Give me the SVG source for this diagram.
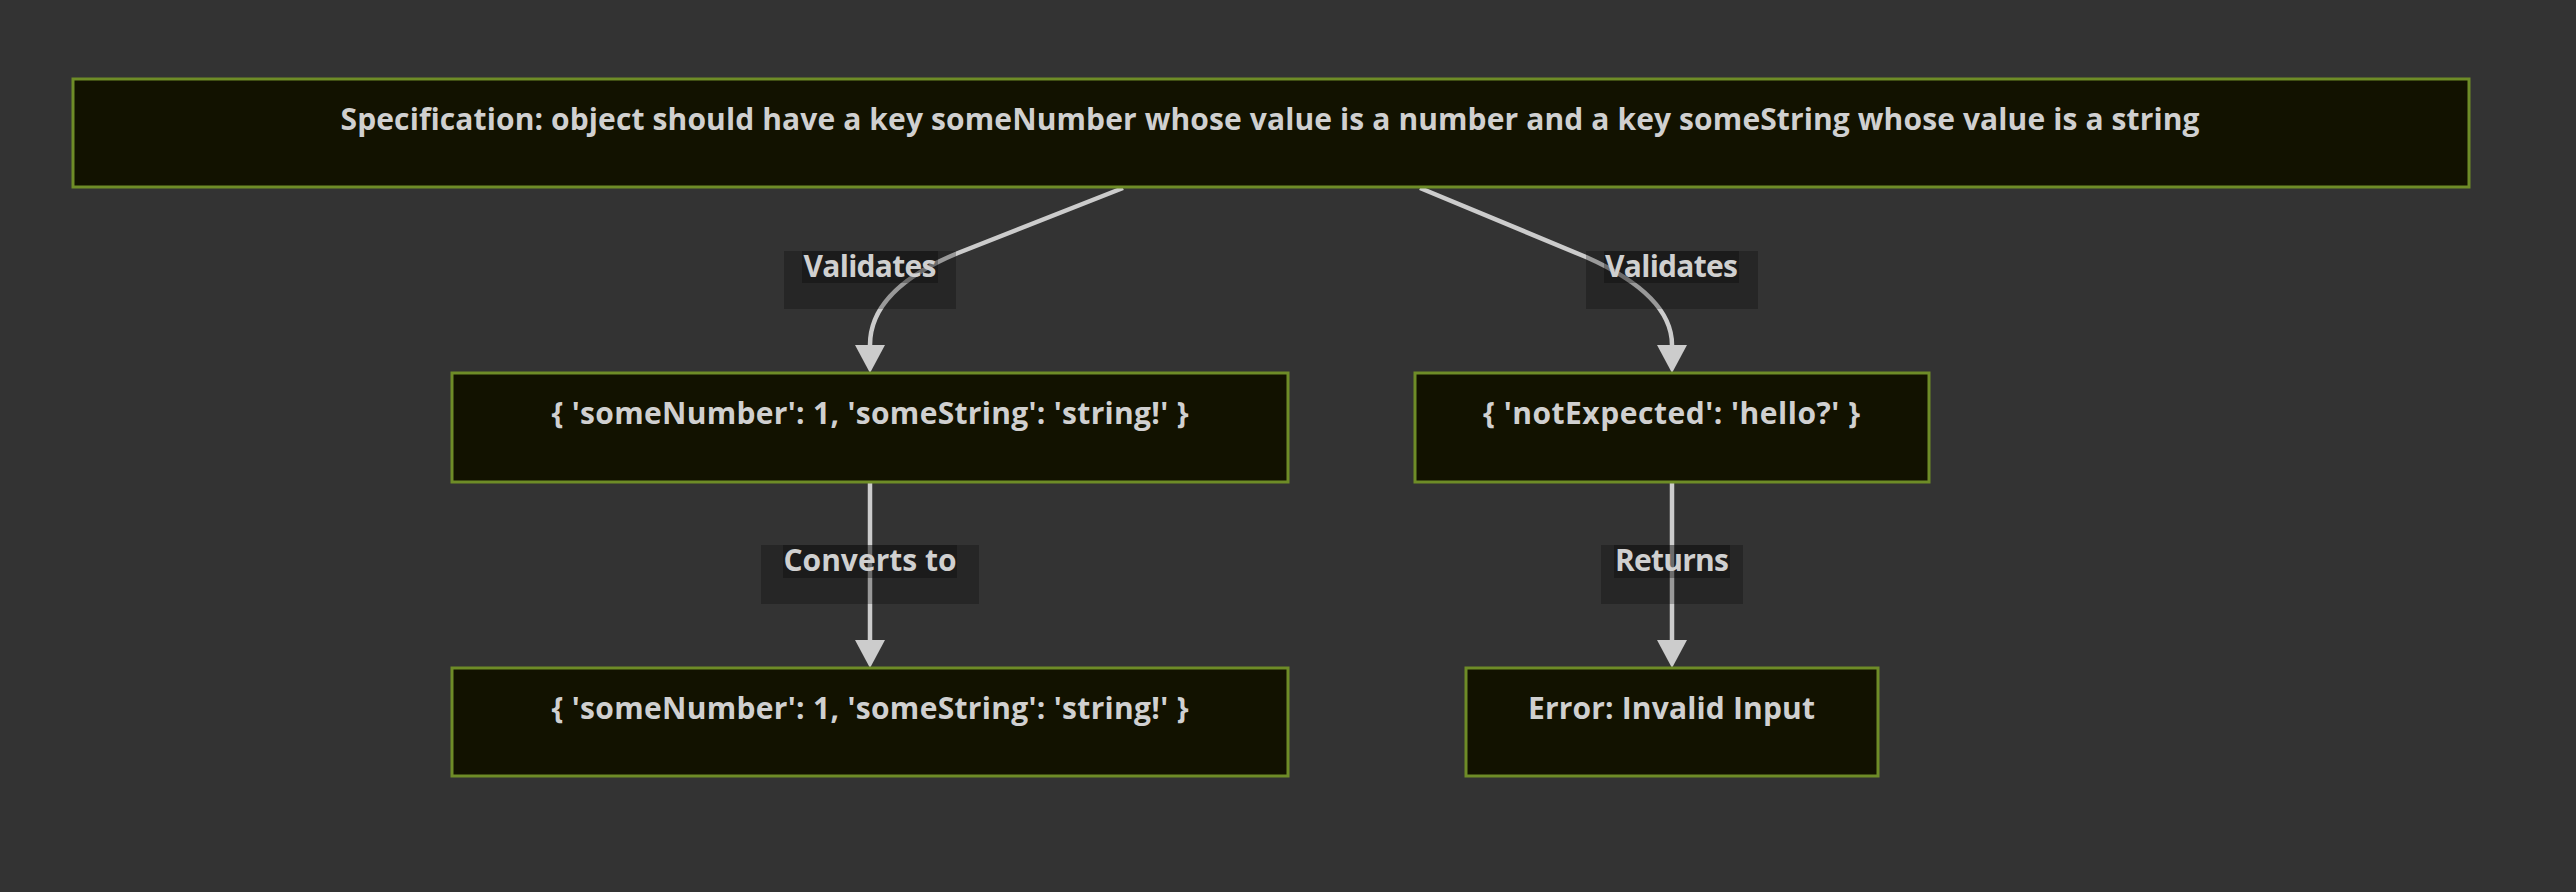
<svg xmlns="http://www.w3.org/2000/svg" width="2576" height="892" viewBox="0 0 2576 892">
  <defs>
    <marker id="arrow" markerUnits="userSpaceOnUse" markerWidth="28" markerHeight="30" refX="0" refY="15" orient="auto">
      <path d="M0,0 L28,15 L0,30 Z" fill="#cccccc"/>
    </marker>
    <style>
      .node rect { fill: #121200; stroke: #6e8c27; stroke-width: 3; }
      .label { font-family: "Open Sans", "DejaVu Sans", sans-serif; font-weight: 700; font-size: 30px; fill: #d0d0d0; text-anchor: middle; }
      .edge { fill: none; stroke: #cccccc; stroke-width: 4.5; }
      .lbl-outer { fill: #000000; fill-opacity: 0.25; }
      .lbl-inner { fill: #000000; fill-opacity: 0.29; }
    </style>
  </defs>
  <rect x="0" y="0" width="2576" height="892" fill="#333333"/>

  <g id="connectors">
    <path class="edge" d="M1123,188 L958,253 C905,275 870,305 870,345" marker-end="url(#arrow)"/>
    <path class="edge" d="M1420,188 L1586,257 C1640,281 1672,310 1672,345" marker-end="url(#arrow)"/>
    <path class="edge" d="M870,483 L870,640" marker-end="url(#arrow)"/>
    <path class="edge" d="M1672,483 L1672,640" marker-end="url(#arrow)"/>
  </g>

  <g id="edge-labels">
    <g id="label-validates-1">
      <rect class="lbl-outer" x="784" y="251" width="172" height="58"/>
      <rect class="lbl-inner" x="802" y="251" width="136" height="32"/>
      <text class="label" x="870" y="277" textLength="133">Validates</text>
    </g>
    <g id="label-validates-2">
      <rect class="lbl-outer" x="1586" y="251" width="172" height="58"/>
      <rect class="lbl-inner" x="1604" y="251" width="135" height="32"/>
      <text class="label" x="1671.5" y="277" textLength="133">Validates</text>
    </g>
    <g id="label-converts">
      <rect class="lbl-outer" x="761" y="545" width="218" height="59"/>
      <rect class="lbl-inner" x="783" y="545" width="174" height="33"/>
      <text class="label" x="870" y="571" textLength="173">Converts to</text>
    </g>
    <g id="label-returns">
      <rect class="lbl-outer" x="1601" y="545" width="142" height="59"/>
      <rect class="lbl-inner" x="1614" y="545" width="116" height="33"/>
      <text class="label" x="1672" y="571" textLength="114">Returns</text>
    </g>
  </g>

  <g id="node-spec" class="node">
    <rect x="73" y="79" width="2396" height="108"/>
    <text class="label" x="1270" y="130" textLength="1859">Specification: object should have a key someNumber whose value is a number and a key someString whose value is a string</text>
  </g>
  <g id="node-valid" class="node">
    <rect x="452" y="373" width="836" height="109"/>
    <text class="label" x="870" y="424" textLength="637">{ 'someNumber': 1, 'someString': 'string!' }</text>
  </g>
  <g id="node-invalid" class="node">
    <rect x="1415" y="373" width="514" height="109"/>
    <text class="label" x="1671.5" y="424" textLength="377">{ 'notExpected': 'hello?' }</text>
  </g>
  <g id="node-converted" class="node">
    <rect x="452" y="668" width="836" height="108"/>
    <text class="label" x="870" y="719" textLength="637">{ 'someNumber': 1, 'someString': 'string!' }</text>
  </g>
  <g id="node-error" class="node">
    <rect x="1466" y="668" width="412" height="108"/>
    <text class="label" x="1671.5" y="719" textLength="287">Error: Invalid Input</text>
  </g>
</svg>
